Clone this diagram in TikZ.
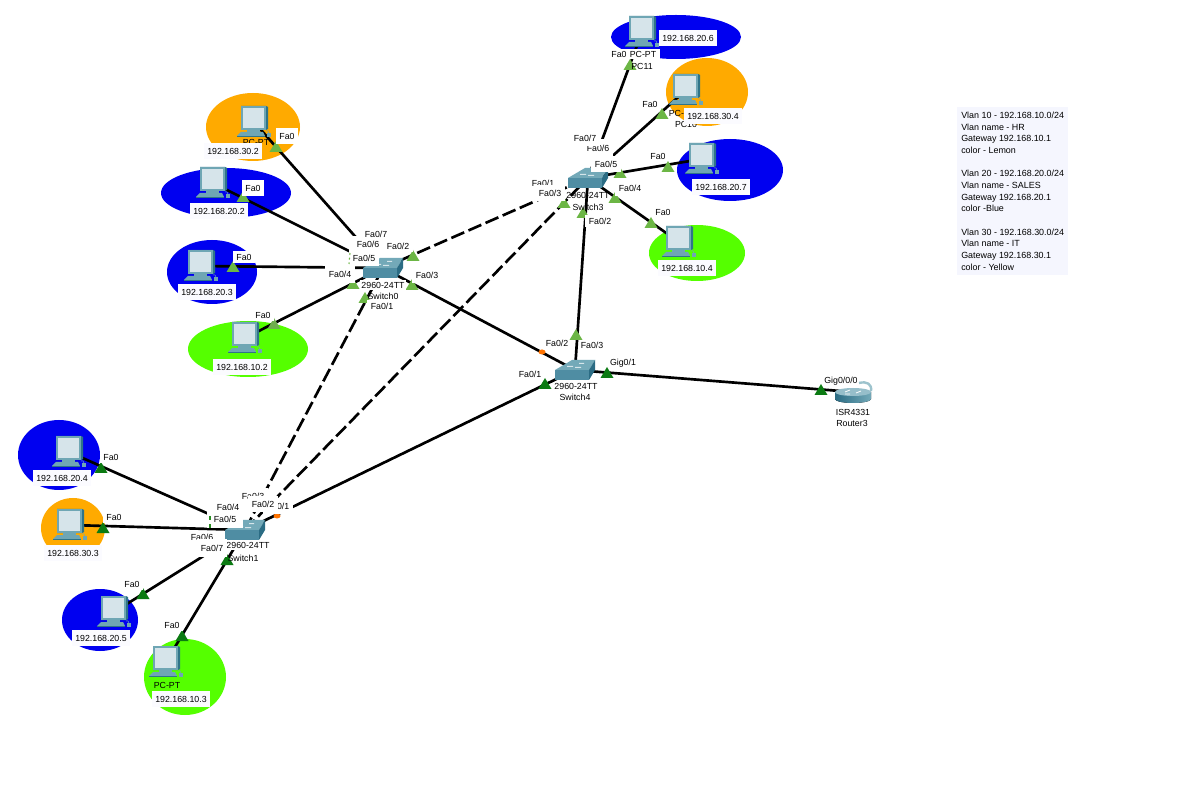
\documentclass[tikz,border=0pt]{standalone}
\usepackage{fontspec}
\setmainfont{Liberation Sans}
\definecolor{vblue}{HTML}{0000F0}
\definecolor{vorange}{HTML}{FFAA00}
\definecolor{vgreen}{HTML}{55FF00}
\definecolor{lgreen}{HTML}{6CB645}
\definecolor{dgreen}{HTML}{0B7A12}
\definecolor{pcdark}{HTML}{2F7488}
\definecolor{pcmid}{HTML}{6FA6B4}
\definecolor{pcscreen}{HTML}{D6E4EA}
\definecolor{swfront}{HTML}{4F8DA3}
\definecolor{swtop}{HTML}{73A9B8}
\definecolor{swside}{HTML}{2B6C84}
\definecolor{panel}{HTML}{F5F6FE}
\tikzset{
  x=0.75pt,y=-0.75pt,
  every node/.style={font=\fontsize{6.6}{8}\selectfont},
  lab/.style={fill=white,inner xsep=2.6pt,inner ysep=3.4pt,text height=4.9pt,text depth=0pt},
  ip/.style={fill=panel!40!white,inner xsep=2.6pt,inner ysep=3.4pt,text height=4.9pt,text depth=0pt},
  plain/.style={inner sep=0pt,text height=4.9pt,text depth=0pt},
  cut/.style={fill=white,inner xsep=1pt,inner ysep=1pt,text height=4.9pt,text depth=0pt},
  link/.style={line width=2pt,draw=black},
  dlink/.style={link,dash pattern=on 10.5pt off 3.5pt},
  pics/pcicon/.style={code={
    \fill[pcdark] (-13,-16) -- (12,-16) -- (14,-15) -- (14,7) -- (12,8) -- (-13,8) -- cycle;
    \fill[pcmid] (-13,-16) rectangle (11.5,8);
    \fill[pcscreen] (-11,-14) rectangle (10,6);
    \fill[pcmid] (-7,8) rectangle (6,10);
    \fill[pcmid] (-13,10) -- (9,10) -- (11,14) -- (-17,14) -- cycle;
    \fill[pcdark] (-17,14) rectangle (11,15);
    \fill[pcmid] (13,11) rectangle (17,15);
    \draw[pcmid,line width=.4pt] (15,11) .. controls (15,8) and (13,9) .. (12,9);
  }},
  pics/swicon/.style={code={
    \fill[swtop] (-20,0) -- (-3,-10) -- (20,-10) -- (14,0) -- cycle;
    \fill[swside] (14,0) -- (20,-10) -- (20,0) -- (14,10) -- cycle;
    \fill[swfront] (-20,0) rectangle (14,10);
    \fill[white!70!swtop] (-8,-4) rectangle (-2,-3) (4,-7) rectangle (9,-6) (0,-3) rectangle (6,-2);
  }},
  pics/routericon/.style={code={
    \draw[line width=1.8pt,draw=swtop!70!white] (6,-9) .. controls (14,-11) and (19,-8) .. (18,-1);
    \fill[left color=swside,middle color=white!85!swtop,right color=swtop]
      (-18,0) -- (-18,7) arc[start angle=180,end angle=0,x radius=18,y radius=4] -- (18,0) -- cycle;
    \fill[swtop!75!white] (0,0) ellipse[x radius=18,y radius=4];
    \draw[white,line width=.6pt] (-8,0) -- (-3,-2) (3,1) -- (8,-1) (-8,2) -- (-3,2);
  }}
}
\newcommand{\tri}[3]{\fill[#1] (#2,#3) ++(-6.5,5) -- ++(13,0) -- ++(-6.5,-11) -- cycle;}
\newcommand{\orangedot}[2]{\fill[orange!90!red] (#1,#2) ellipse[x radius=3.5,y radius=2.5];}
\begin{document}
\begin{tikzpicture}
\useasboundingbox (0,0) rectangle (1200,798);
\fill[white] (0,0) rectangle (1200,798);

% VLAN ellipses
\fill[vorange] (253,127) ellipse[x radius=47,y radius=34];
\fill[vblue]   (226,193) ellipse[x radius=65,y radius=25];
\fill[vblue]   (212,272) ellipse[x radius=45,y radius=32];
\fill[vgreen]  (248,349) ellipse[x radius=60,y radius=28];
\fill[vblue]   (59,455)  ellipse[x radius=41,y radius=35];
\fill[vorange] (73,528)  ellipse[x radius=32,y radius=30];
\fill[vblue]   (100,620) ellipse[x radius=38,y radius=31];
\fill[vgreen]  (185,677) ellipse[x radius=41,y radius=38];
\fill[vblue]   (676,37)  ellipse[x radius=65,y radius=22];
\fill[vorange] (707,92)  ellipse[x radius=41,y radius=34];
\fill[vblue]   (730,170) ellipse[x radius=53,y radius=31];
\fill[vgreen]  (697,253) ellipse[x radius=48,y radius=28];

% Device anchors
\coordinate (pc302) at (254,122);
\coordinate (pc202) at (213,183);
\coordinate (pc203) at (201,266);
\coordinate (pc102) at (245,338);
\coordinate (pc204) at (69,452);
\coordinate (pc303) at (70,525);
\coordinate (pc205) at (114,612);
\coordinate (pc103) at (166,662);
\coordinate (pc206) at (642,32);
\coordinate (pc304) at (686,90);
\coordinate (pc207) at (702,159);
\coordinate (pc104) at (679,242);
\coordinate (sw0) at (383,268);
\coordinate (sw1) at (245,530);
\coordinate (sw3) at (588,178);
\coordinate (sw4) at (575,370);
\coordinate (rt3) at (853,392);

% Links
\draw[link] (pc302) -- (sw0);
\draw[link] (pc202) -- (sw0);
\draw[link] (pc203) -- (sw0);
\draw[link] (pc102) -- (sw0);
\draw[link] (pc204) -- (sw1);
\draw[link] (pc303) -- (sw1);
\draw[link] (pc205) -- (sw1);
\draw[link] (pc103) -- (sw1);
\draw[link] (pc206) -- (sw3);
\draw[link] (pc304) -- (sw3);
\draw[link] (pc207) -- (sw3);
\draw[link] (pc104) -- (sw3);
\draw[link] (sw0) -- (sw4);
\draw[link] (sw3) -- (sw4);
\draw[link] (sw1) -- (sw4);
\draw[link] (sw4) -- (rt3);
\draw[dlink] (sw0) -- (sw3);
\draw[dlink] (sw1) -- (sw0);
\draw[dlink] (sw1) -- (sw3);

% Device icons
\foreach \p in {pc302,pc202,pc203,pc102,pc204,pc303,pc205,pc103,pc206,pc304,pc207,pc104}{\pic at (\p) {pcicon};}
\foreach \s in {sw0,sw1,sw3,sw4}{\pic at (\s) {swicon};}
\pic at (rt3) {routericon};

% Port markers
\tri{lgreen}{276}{147}\tri{lgreen}{243}{197}\tri{lgreen}{233}{267}\tri{lgreen!85!gray}{274}{324}
\tri{lgreen}{353}{284}\tri{lgreen}{412}{285}\tri{lgreen}{413}{256}\tri{lgreen}{365}{298}
\tri{lgreen}{630}{65}\tri{lgreen}{662}{114}\tri{lgreen}{668}{167}\tri{lgreen}{651}{223}
\tri{lgreen}{620}{173}\tri{lgreen}{615}{198}\tri{lgreen}{564}{203}\tri{lgreen}{583}{213}
\tri{lgreen}{576}{335}
\tri{dgreen}{545}{384}\tri{dgreen}{607}{373}\tri{dgreen}{821}{390}
\tri{dgreen}{101}{468}\tri{dgreen}{103}{528}\tri{dgreen}{143}{594}\tri{dgreen}{182}{636}\tri{dgreen}{227}{560}
\orangedot{542}{352}\orangedot{277}{516}

% Texts lying under the address boxes
\node[plain] (n01) at (256,142) {PC-PT};
\node[lab,inner ysep=1.5pt] (n02) at (643,54) {PC-PT};
\node[plain] (n03) at (642,66) {PC11};
\node[plain] (n04) at (682,113) {PC-PT};
\node[plain] (n05) at (686,124) {PC10};
\node[plain] (n06) at (167,685) {PC-PT};
\node[plain] (n07) at (383,296) {Switch0};
\node[lab] (n08) at (543,183) {Fa0/1};
\node[lab] (n09) at (253,496) {Fa0/3};
\node[lab] (n10) at (278,506) {Fa0/1};

% Switch0 labels
\node[lab] (a1) at (287,136) {Fa0};
\node[ip]  (a2) at (233,151) {192.168.30.2};
\node[lab] (a3) at (253,188) {Fa0};
\node[ip]  (a4) at (219,211) {192.168.20.2};
\node[lab,inner ysep=2pt] (a5) at (244,257) {Fa0};
\node[ip]  (a6) at (207,292) {192.168.20.3};
\node[lab,inner ysep=2pt] (a7) at (263,315) {Fa0};
\node[ip]  (a8) at (242,367) {192.168.10.2};
\node[lab,inner xsep=6pt] (a9) at (368,244) {Fa0/6};
\node[lab,inner xsep=5pt,inner ysep=2.4pt] (a10) at (376,234) {Fa0/7};
\node[lab] (a11) at (364,258) {Fa0/5};
\node[lab,inner ysep=4.4pt] (a12) at (340,274) {Fa0/4};
\node[lab,inner ysep=2pt] (a13) at (398,246) {Fa0/2};
\node[lab] (a14) at (427,275) {Fa0/3};
\node[cut] (a16) at (383,285) {2960-24TT};
\node[lab,inner ysep=2pt] (a15) at (382,306) {Fa0/1};
\draw[lgreen,line width=.8pt,dash pattern=on 1.5pt off 2pt] (350,253) -- (349,264);

% Switch3 labels
\node[ip]  (b1) at (688,38) {192.168.20.6};
\node[lab,inner ysep=1.5pt] (b2) at (619,54) {Fa0};
\node[lab,inner ysep=2pt] (b3) at (650,104) {Fa0};
\node[ip]  (b4) at (713,116) {192.168.30.4};
\node[lab,inner ysep=1.5pt] (b5) at (658,156) {Fa0};
\node[ip]  (b6) at (721,187) {192.168.20.7};
\node[lab,inner ysep=1.5pt] (b7) at (663,212) {Fa0};
\node[ip]  (b8) at (687,268) {192.168.10.4};
\node[lab,inner ysep=4pt] (b9) at (598,148) {Fa0/6};
\node[lab] (b10) at (585,138) {Fa0/7};
\node[lab] (b11) at (606,164) {Fa0/5};
\node[lab] (b12) at (630,188) {Fa0/4};
\node[lab] (b13) at (550,193) {Fa0/3};
\node[lab,inner ysep=2pt] (b14) at (600,221) {Fa0/2};
\node[plain] (b15) at (588,195) {2960-24TT};
\node[plain] (b16) at (588,207) {Switch3};

% Switch1 labels
\node[lab,inner ysep=2pt] (c1) at (111,457) {Fa0};
\node[ip]  (c2) at (62,478) {192.168.20.4};
\node[lab,inner ysep=2pt] (c3) at (114,517) {Fa0};
\node[ip]  (c4) at (73,553) {192.168.30.3};
\node[lab,inner ysep=2pt] (c5) at (132,584) {Fa0};
\node[ip]  (c6) at (101,638) {192.168.20.5};
\node[lab,inner ysep=2pt] (c7) at (172,625) {Fa0};
\node[ip]  (c8) at (181,699) {192.168.10.3};
\node[lab,inner xsep=7.5pt] (c10) at (228,507) {Fa0/4};
\node[lab,inner xsep=5pt,inner ysep=4pt] (c11) at (225,519) {Fa0/5};
\node[lab,inner xsep=2pt,inner ysep=2pt] (c9) at (202,537) {Fa0/6};
\node[cut] (c14) at (248,545) {2960-24TT};
\node[lab,inner ysep=4.2pt] (c12) at (212,548) {Fa0/7};
\node[lab] (c13) at (263,504) {Fa0/2};
\node[plain] (c15) at (243,558) {Switch1};
\draw[dgreen!70!lgreen,line width=.8pt,dash pattern=on 3pt off 3pt] (210,516) -- (210,529);

% Switch4 and router labels
\node[plain] (d1) at (557,343) {Fa0/2};
\node[plain] (d2) at (592,345) {Fa0/3};
\node[plain] (d3) at (623,362) {Gig0/1};
\node[plain] (d4) at (530,374) {Fa0/1};
\node[plain] (d5) at (576,386) {2960-24TT};
\node[plain] (d6) at (575,397) {Switch4};
\node[plain] (d7) at (841,380) {Gig0/0/0};
\node[plain] (d8) at (853,412) {ISR4331};
\node[plain] (d9) at (852,423) {Router3};

% VLAN legend
\node[fill=panel,anchor=north west,align=left,inner xsep=3pt,inner ysep=0pt,minimum width=82.5pt,minimum height=126pt,
      font=\fontsize{6.7}{8.75}\selectfont] (legend) at (957,107) {%
Vlan 10 - 192.168.10.0/24\\
Vlan name - HR\\
Gateway 192.168.10.1\\
color - Lemon\\[8.75pt]
Vlan 20 - 192.168.20.0/24\\
Vlan name - SALES\\
Gateway 192.168.20.1\\
color -Blue\\[8.75pt]
Vlan 30 - 192.168.30.0/24\\
Vlan name - IT\\
Gateway 192.168.30.1\\
color - Yellow};
\end{tikzpicture}
\end{document}
